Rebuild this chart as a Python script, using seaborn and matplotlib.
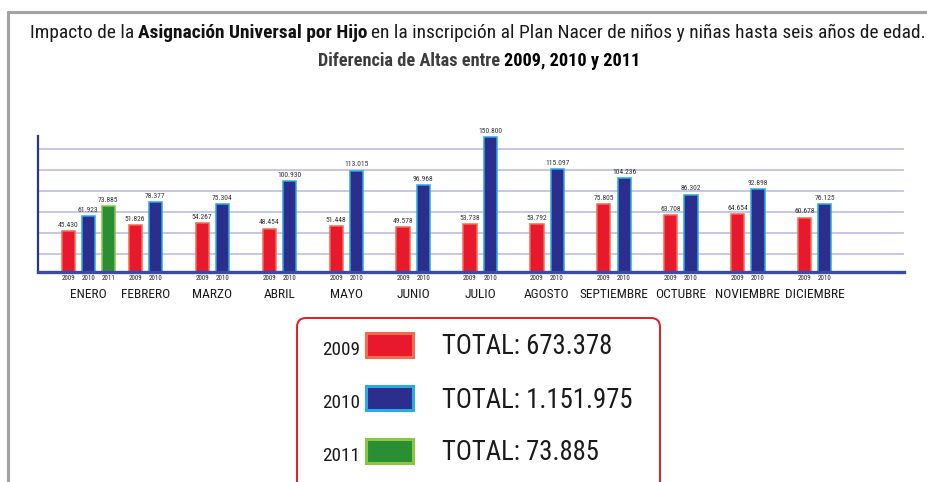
import numpy as np
import pandas as pd
import matplotlib
matplotlib.use("Agg")
import matplotlib.pyplot as plt
import seaborn as sns
from matplotlib.patches import FancyBboxPatch, Rectangle
from matplotlib.lines import Line2D
from matplotlib.transforms import IdentityTransform

# datos
meses = ['ENERO', 'FEBRERO', 'MARZO', 'ABRIL', 'MAYO', 'JUNIO', 'JULIO',
         'AGOSTO', 'SEPTIEMBRE', 'OCTUBRE', 'NOVIEMBRE', 'DICIEMBRE']
altas_2009 = [45430, 51826, 54267, 48454, 51448, 49578, 53738,
              53792, 75805, 63708, 64654, 60678]
altas_2010 = [61923, 78377, 75304, 100930, 113015, 96968, 150800,
              115097, 104236, 86302, 92898, 76125]
altas_2011 = [73885]
anios = ['2009', '2010', '2011']

relleno = {'2009': '#E8192C', '2010': '#2B2E8C', '2011': '#2A8F34'}
borde = {'2009': '#F26B4F', '2010': '#29ABE2', '2011': '#8DC63F'}

filas = []
for i, m in enumerate(meses):
    filas.append((m, '2009', altas_2009[i]))
    filas.append((m, '2010', altas_2010[i]))
for m, v in zip(meses, altas_2011):
    filas.append((m, '2011', v))
df = pd.DataFrame(filas, columns=['mes', 'anio', 'altas'])

totales = {'2009': sum(altas_2009), '2010': sum(altas_2010), '2011': sum(altas_2011)}


def miles(v):
    return f"{v:,}".replace(",", ".")


sns.set_theme(style='white')
plt.rcParams['font.family'] = ['Roboto Condensed', 'DejaVu Sans']
plt.rcParams['font.stretch'] = 'condensed'

W, H = 928, 482
fig = plt.figure(figsize=(W / 100, H / 100), dpi=100)
fig.patch.set_facecolor('white')
ax = fig.add_axes([38 / W, 1 - 272 / H, (904 - 38) / W, (272 - 136) / H])
rend = fig.canvas.get_renderer()

sns.barplot(data=df, x='mes', y='altas', hue='anio', order=meses, hue_order=anios,
            palette=relleno, saturation=1, width=0.9, gap=0.35, errorbar=None,
            legend=False, ax=ax)

ax.set_xlim(-0.75, 12.18)
ax.set_ylim(0, 151500)
ax.set_yticks([20000, 43400, 66800, 90200, 113600, 137000])
ax.set_yticklabels([])
ax.set_xticks([])
ax.tick_params(length=0)
ax.yaxis.grid(True, color='#B7B7E4', lw=1.1)
ax.set_axisbelow(True)
ax.set_xlabel('')
ax.set_ylabel('')
for s in ['top', 'right']:
    ax.spines[s].set_visible(False)
ax.spines['left'].set_color('#2E3192')
ax.spines['left'].set_linewidth(1.6)
ax.spines['bottom'].set_color('#3B4BA5')
ax.spines['bottom'].set_linewidth(2.4)

centros = {}
for cont, anio in zip(ax.containers, anios):
    for barra in cont:
        barra.set_edgecolor(borde[anio])
        barra.set_linewidth(1.1)
        barra.set_clip_on(False)
        xc = barra.get_x() + barra.get_width() / 2
        centros.setdefault(int(round(xc)), []).append(xc)
        ax.text(xc, -0.05, anio, transform=ax.get_xaxis_transform(), ha='center',
                va='center', fontsize=5, color='#222222')
    ax.bar_label(cont, labels=[miles(int(v)) for v in cont.datavalues],
                 fontsize=5.4, padding=1.5, color='#333333')

for i, m in enumerate(meses):
    xm = np.mean(centros[i])
    ax.text(xm, -0.165, m, transform=ax.get_xaxis_transform(), ha='center',
            va='center', fontsize=9.6, color='#1a1a1a')


def linea_mixta(partes, centro, base, ancho, tam):
    # partes en normal / negrita, escaladas al ancho de la referencia
    textos = []
    for s, peso, color in partes:
        textos.append(fig.text(0, H - base, s, fontsize=tam, fontweight=peso, color=color,
                               transform=IdentityTransform(), va='baseline', ha='left'))
    esp = tam * 100 / 72 * 0.24
    anchos = [t.get_window_extent(rend).width for t in textos]
    total = sum(anchos) + esp * (len(textos) - 1)
    f = ancho / total
    for t in textos:
        t.set_fontsize(tam * f)
    esp *= f
    anchos = [a * f for a in anchos]
    x = centro - ancho / 2
    for t, a in zip(textos, anchos):
        t.set_x(x)
        x += a + esp


linea_mixta([('Impacto de la', 'normal', '#1a1a1a'),
             ('Asignación Universal por Hijo', 'bold', '#111111'),
             ('en la inscripción al Plan Nacer de niños y niñas hasta seis años de edad.',
              'normal', '#1a1a1a')], 476, 38, 892, 13)
linea_mixta([('Diferencia de Altas entre', 'bold', '#3d3d3d'),
             ('2009, 2010 y 2011', 'bold', '#000000')], 479, 66, 322, 12)

# marco gris
fig.add_artist(Line2D([8 / W, 1], [1 - 12 / H, 1 - 12 / H], color='#A3A3A3', lw=2.2))
fig.add_artist(Line2D([8 / W, 8 / W], [0, 1 - 12 / H], color='#A3A3A3', lw=2.2))

# recuadro de totales
caja = FancyBboxPatch((297, -10), 363, H - 318 + 10, boxstyle='round,pad=0,rounding_size=9',
                      transform=IdentityTransform(), facecolor='white', edgecolor='#E31B23',
                      lw=1.4, clip_on=False)
fig.add_artist(caja)
for k, anio in enumerate(anios):
    yc = H - (345 + 53 * k)
    fig.text(322, yc - 5, anio, fontsize=13.8, color='#1a1a1a', va='center', ha='left',
             transform=IdentityTransform())
    fig.add_artist(Rectangle((366, yc - 12), 47, 24, transform=IdentityTransform(),
                             facecolor=relleno[anio], edgecolor=borde[anio], lw=2.2))
    fig.text(442, yc - 2, 'TOTAL: ' + miles(totales[anio]), fontsize=19.3,
             color='#1a1a1a', va='center', ha='left', transform=IdentityTransform())

fig.savefig('out.png', dpi=100)
